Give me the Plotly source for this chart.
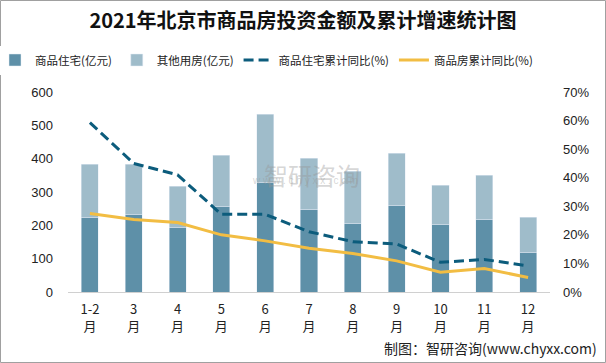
import plotly.graph_objects as go

months = ["1-2<br>月", "3<br>月", "4<br>月", "5<br>月", "6<br>月", "7<br>月", "8<br>月", "9<br>月", "10<br>月", "11<br>月", "12<br>月"]
residential = [225, 234, 195, 258, 330, 249, 207, 261, 204, 219, 120]
other = [159, 150, 123, 153, 204, 153, 156, 156, 117, 132, 105]
res_yoy = [0.593, 0.450, 0.410, 0.272, 0.272, 0.211, 0.176, 0.168, 0.104, 0.114, 0.091]
total_yoy = [0.275, 0.254, 0.243, 0.200, 0.179, 0.153, 0.135, 0.109, 0.069, 0.082, 0.051]

FONT = "Noto Sans CJK SC"
fig = go.Figure()
fig.add_trace(go.Bar(x=months, y=residential, name="商品住宅(亿元)", marker_color="#5E90A8", width=0.39))
fig.add_trace(go.Bar(x=months, y=other, name="其他用房(亿元)", marker_color="#9FBCCA", width=0.39))
fig.add_trace(go.Scatter(x=months, y=res_yoy, name="商品住宅累计同比(%)", yaxis="y2", mode="lines",
                         line=dict(color="#0C5C7C", width=3, dash="10px,5px")))
fig.add_trace(go.Scatter(x=months, y=total_yoy, name="商品房累计同比(%)", yaxis="y2", mode="lines",
                         line=dict(color="#F2BD43", width=3)))

fig.update_layout(
    width=606, height=363,
    margin=dict(l=68, r=56, t=92, b=71, autoexpand=False),
    barmode="stack",
    plot_bgcolor="white", paper_bgcolor="white",
    font=dict(family=FONT, size=12, color="#222"),
    title=dict(text="<b>2021年北京市商品房投资金额及累计增速统计图</b>", x=0.5, xanchor="center",
               y=1 - 21/363, yanchor="middle", font=dict(size=20, color="#111", family=FONT)),
    legend=dict(orientation="h", x=(-5-68)/482, xanchor="left", y=(292-60)/200, yanchor="middle",
                font=dict(size=11.5, family=FONT), traceorder="normal", itemwidth=30,
                tracegroupgap=0),
    xaxis=dict(showline=True, linecolor="#D0D0D0", linewidth=1, ticks="", tickfont=dict(size=13),
               showgrid=False, ticklabelstandoff=5),
    yaxis=dict(range=[0, 600], dtick=100, showgrid=False, zeroline=False, showline=False,
               tickfont=dict(size=13, family="Liberation Sans"), ticklabelstandoff=14),
    yaxis2=dict(range=[0, 0.7], dtick=0.1, tickformat=".0%", overlaying="y", side="right",
                showgrid=False, zeroline=False, showline=False,
                tickfont=dict(size=13, family="Liberation Sans"), ticklabelstandoff=12),
    showlegend=True,
)

fig.add_annotation(text="智研咨询", x=(312-68)/482, y=(292-155)/200, xref="paper", yref="paper", showarrow=False,
                   font=dict(size=24, color="rgba(150,150,150,0.4)", family=FONT))
fig.add_annotation(text="w w w . c h y x x . c o m", x=(305-68)/482, y=(292-180)/200, xref="paper", yref="paper", showarrow=False,
                   font=dict(size=10, color="rgba(150,150,150,0.4)", family="Liberation Sans"))
fig.add_annotation(text="制图：智研咨询(www.chyxx.com)", x=(599-68)/482, y=(292-348)/200, xref="paper", yref="paper",
                   xanchor="right", yanchor="middle", showarrow=False, font=dict(size=14, color="#222", family=FONT))
fig.add_shape(type="rect", xref="paper", yref="paper", x0=(0.5-68)/482, x1=(605.5-68)/482,
              y0=(292-362.5)/200, y1=(292-0.5)/200, line=dict(color="#A0A0A0", width=1))

fig.write_html("out.html", config={"displayModeBar": False},
               post_script="document.body.style.margin='0';document.body.style.overflow='hidden';")
